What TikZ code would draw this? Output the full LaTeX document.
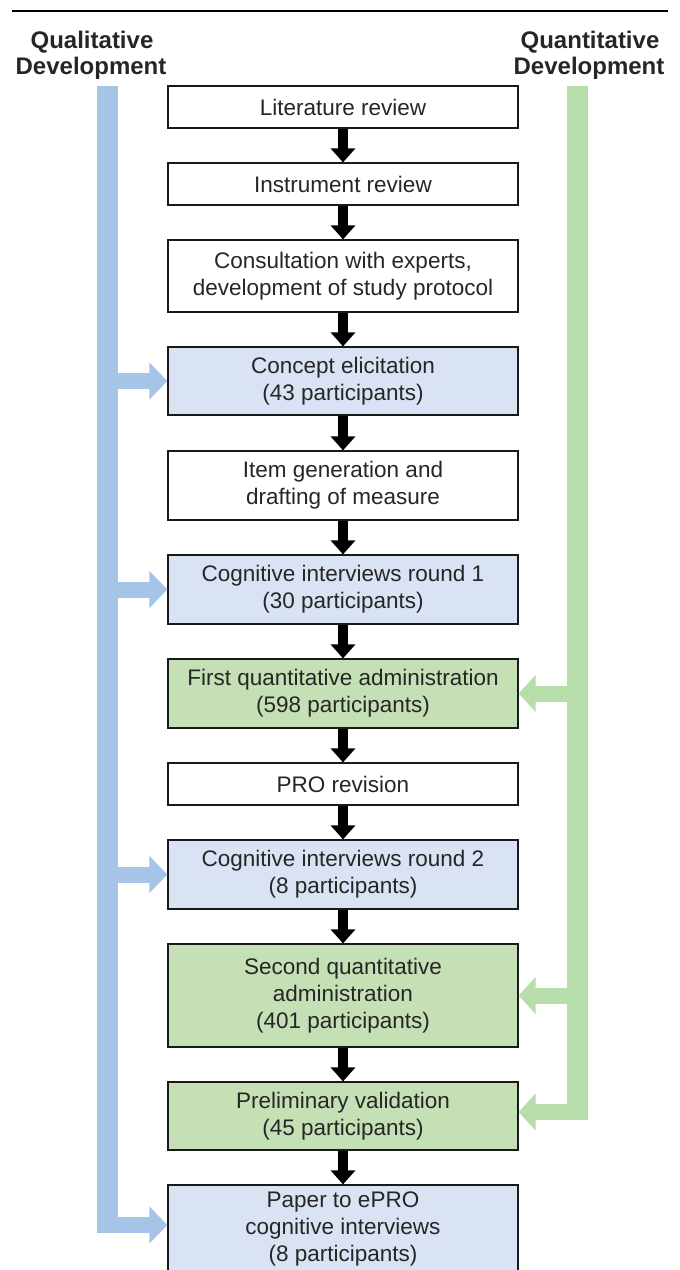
\documentclass[tikz,border=0pt]{standalone}
\usepackage{fontspec}
\setmainfont{Liberation Sans}
\usetikzlibrary{arrows.meta}
\definecolor{txt}{HTML}{262626}
\definecolor{bluebox}{HTML}{DAE3F3}
\definecolor{greenbox}{HTML}{C5E0B4}
\definecolor{bluebar}{HTML}{A6C3E8}
\definecolor{greenbar}{HTML}{B6DDAA}
\tikzset{
  stepbox/.style={draw=black!90, line width=1.2pt, fill=white, minimum width=350pt,
    inner sep=0pt, align=center, text=txt, font=\fontsize{22.5}{27}\selectfont},
  qualbox/.style={stepbox, fill=bluebox},
  quantbox/.style={stepbox, fill=greenbox},
  flow/.style={line width=10pt, black, -{Triangle[width=24pt,length=14pt]}},
  qualarr/.style={line width=16pt, bluebar, -{Triangle[width=36pt,length=18pt]}},
  quantarr/.style={line width=16pt, greenbar, -{Triangle[width=36pt,length=17pt]}},
  title/.style={font=\bfseries\fontsize{24}{24}\selectfont, text=txt, anchor=base, inner sep=0pt}
}
\begin{document}
\begin{tikzpicture}[x=1pt,y=-1pt]
\useasboundingbox (0,0) rectangle (680,1270);
\clip (0,0) rectangle (680,1270);
% top rule
\draw[line width=1.6pt] (12,11) -- (668,11);
% titles
\node[title] (qlt1) at (92,48) {Qualitative};
\node[title] (qlt2) at (91,74) {Development};
\node[title] (qnt1) at (590,48) {Quantitative};
\node[title] (qnt2) at (589,74) {Development};
% side bars
\fill[bluebar] (97,86) rectangle (118,1233);
\fill[greenbar] (567,86) rectangle (588,1120);
% boxes
\node[stepbox, minimum height=42pt] (b1) at (343,107) {Literature review};
\node[stepbox, minimum height=42pt] (b2) at (343,184) {Instrument review};
\node[stepbox, minimum height=72pt] (b3) at (343,276) {Consultation with experts,\\development of study protocol};
\node[qualbox, minimum height=68pt] (b4) at (343,381) {Concept elicitation\\(43 participants)};
\node[stepbox, minimum height=69pt] (b5) at (343,485.5) {Item generation and\\drafting of measure};
\node[qualbox, minimum height=69pt] (b6) at (343,589.5) {Cognitive interviews round 1\\(30 participants)};
\node[quantbox, minimum height=69pt] (b7) at (343,693.5) {First quantitative administration\\(598 participants)};
\node[stepbox, minimum height=42pt] (b8) at (343,784) {PRO revision};
\node[qualbox, minimum height=69pt] (b9) at (343,874.5) {Cognitive interviews round 2\\(8 participants)};
\node[quantbox, minimum height=103pt] (b10) at (343,995.5) {Second quantitative\\administration\\(401 participants)};
\node[quantbox, minimum height=68pt] (b11) at (343,1116) {Preliminary validation\\(45 participants)};
\node[qualbox, minimum height=88pt] (b12) at (343,1229) {Paper to ePRO\\cognitive interviews\\(8 participants)};
% main flow arrows
\foreach \a/\b in {b1/b2,b2/b3,b3/b4,b4/b5,b5/b6,b6/b7,b7/b8,b8/b9,b9/b10,b10/b11,b11/b12}
  \draw[flow] (\a.south) -- (\b.north);
% qualitative arrows
\coordinate (q4) at (107,381);
\coordinate (q6) at (107,589.5);
\coordinate (q9) at (107,874.5);
\coordinate (q12) at (97,1225);
\draw[qualarr] (q4) -- (b4.west);
\draw[qualarr] (q6) -- (b6.west);
\draw[qualarr] (q9) -- (b9.west);
\draw[qualarr] (q12) -- (b12.west |- q12);
% quantitative arrows
\coordinate (g7) at (578,693.5);
\coordinate (g10) at (578,995.5);
\coordinate (g11) at (588,1112);
\draw[quantarr] (g7) -- (b7.east);
\draw[quantarr] (g10) -- (b10.east);
\draw[quantarr] (g11) -- (b11.east |- g11);
\end{tikzpicture}
\end{document}
